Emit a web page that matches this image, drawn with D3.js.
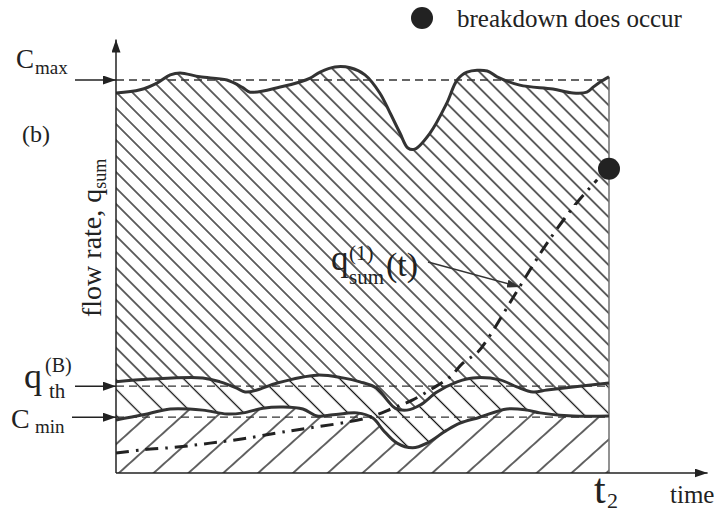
<!DOCTYPE html>
<html><head><meta charset="utf-8">
<script src="https://cdn.jsdelivr.net/npm/d3@7"></script>
<style>body{margin:0;background:#fff}svg{display:block}text{font-family:"Liberation Serif","Times New Roman",serif;fill:#222}</style>
</head><body>
<script>
// ---- data (time 0..100 = t2 ; flow 0..100 = Cmax) ----
const capMaxX = [0,4.9,8.3,11.0,13.0,17.0,22.5,25.8,27.2,33.3,37.3,39.4,41.4,44.4,47.5,50.5,53.5,55.6,57.6,59.2,60.6,63.7,67.1,69.2,71.2,75.3,77.3,81.9,88.6,92.7,95.5,96.8,98.2,100];
const capMaxY = [96.7,97.5,99.2,101.3,101.8,100.8,100,98.0,96.9,98.2,99.5,100.5,102.0,103.3,103.1,101.3,96.7,91.6,86.5,82.7,82.4,86.5,94.1,100,102.0,102.3,100.8,98.7,97.7,96.7,96.9,98.2,99.5,100.8];
const thrX = [0,6.9,17.6,21.1,24.5,26.2,28.6,32.7,40.8,46.0,49.5,52.9,55.0,56.6,59.0,61.7,65.1,69.2,72.4,77.9,81.3,84.6,87.4,92.7,100];
const thrY = [23.2,23.9,24.2,23.2,21.6,20.6,21.1,22.9,24.9,24.2,23.2,21.6,18.6,16.5,16.0,17.3,20.6,23.2,24.2,23.7,21.9,20.6,21.1,21.9,22.9];
const capMinX = [0,5.5,11.0,17.6,22.5,25.8,29.8,33.9,37.9,40.8,44.0,48.9,52.1,54.2,57.0,60.2,63.1,67.1,69.8,73.8,79.3,83.4,86.0,92.7,100];
const capMinY = [13.5,14.8,16.3,16.0,15.0,15.3,16.5,16.8,16.3,14.5,14.8,15.3,14.0,10.9,7.6,6.4,7.6,10.9,12.7,14.2,16.3,16.0,15.3,14.5,14.5];
const demandX = [0,5.5,12.4,19.1,25.8,32.7,37.9,50.9,56.2,60.2,64.3,67.7,70.4,73.4,75.9,79.9,84.0,87.6,93.1,97.6];
const demandY = [5.1,5.9,6.6,7.6,8.7,10.2,11.2,14.0,16.5,18.6,21.6,24.4,28.0,30.8,35.1,43.3,51.7,58.8,68.2,74.6];
const breakdownPoint = [100, 77.4];
const refNames = ["Cmax","qth","Cmin"];
const refValues = [100, 22.1, 14.2];

const W=714,H=512;
const x=d3.scaleLinear().domain([0,100]).range([116,609]);
const y=d3.scaleLinear().domain([0,100]).range([473,80]);
const zip=(a,b)=>a.map((v,i)=>[v,b[i]]);
const capMax=zip(capMaxX,capMaxY), thr=zip(thrX,thrY), capMin=zip(capMinX,capMinY), demand=zip(demandX,demandY);

const svg=d3.select("body").append("svg").attr("width",W).attr("height",H);
const defs=svg.append("defs");
function hatch(id,s,ang){
  const p=defs.append("pattern").attr("id",id).attr("patternUnits","userSpaceOnUse")
    .attr("width",s).attr("height",s).attr("patternTransform",`rotate(${ang})`);
  p.append("line").attr("x1",s/2).attr("x2",s/2).attr("y1",-1).attr("y2",s+1)
    .attr("stroke","#111").attr("stroke-width",1.3);
}
hatch("hUp",11.3,-45); hatch("hBand",18.4,-45); hatch("hLow",23.3,48);
const marker=(id,w,h,col)=>defs.append("marker").attr("id",id).attr("viewBox",`0 0 ${w} ${h}`)
  .attr("refX",w).attr("refY",h/2).attr("markerWidth",w).attr("markerHeight",h).attr("markerUnits","userSpaceOnUse")
  .attr("orient","auto").append("path").attr("d",`M0,0L${w},${h/2}L0,${h}Z`).attr("fill",col);
marker("arr",13,9,"#222"); marker("arrS",13,8,"#333");

const line=d3.line().x(d=>x(d[0])).y(d=>y(d[1])).curve(d3.curveCatmullRom.alpha(0.5));
const closed=(a,b)=>line(a)+"L"+line(b.slice().reverse()).slice(1)+"Z";
svg.append("path").attr("d",closed(capMax,thr)).attr("fill","url(#hUp)");
svg.append("path").attr("d",closed(thr,capMin)).attr("fill","url(#hBand)");
svg.append("path").attr("d",closed(capMin,[[0,0],[100,0]])).attr("fill","url(#hLow)");

// reference dashed lines
svg.selectAll(".ref").data(refValues).join("line").attr("x1",x(0)).attr("x2",x(100))
  .attr("y1",d=>y(d)).attr("y2",d=>y(d)).attr("stroke","#333").attr("stroke-width",1.3).attr("stroke-dasharray","8,5");
// right border
svg.append("line").attr("x1",x(100)).attr("x2",x(100)).attr("y1",y(capMaxY[capMaxY.length-1])).attr("y2",y(0))
  .attr("stroke","#777").attr("stroke-width",1.6);
// curves
[capMax,thr,capMin].forEach(c=>svg.append("path").attr("d",line(c)).attr("fill","none")
  .attr("stroke","#333").attr("stroke-width",3));
svg.append("path").attr("d",line(demand)).attr("fill","none").attr("stroke","#222")
  .attr("stroke-width",3).attr("stroke-dasharray","13,7,2.5,7");
svg.append("circle").attr("cx",x(breakdownPoint[0])).attr("cy",y(breakdownPoint[1])).attr("r",11).attr("fill","#222");

// axes
svg.append("line").attr("x1",x(0)).attr("x2",x(0)).attr("y1",y(0)).attr("y2",y(110.3)).attr("stroke","#222").attr("stroke-width",1.5).attr("marker-end","url(#arr)");
svg.append("line").attr("x1",x(0)).attr("x2",x(120)).attr("y1",y(0)).attr("y2",y(0)).attr("stroke","#222").attr("stroke-width",1.5).attr("marker-end","url(#arr)");
// label arrows
const arrStarts=[75,75,72];
refValues.forEach((v,i)=>svg.append("line").attr("x1",arrStarts[i]).attr("x2",x(0)).attr("y1",y(v)).attr("y2",y(v))
  .attr("stroke","#222").attr("stroke-width",1.5).attr("marker-end","url(#arr)"));

const T=(t,px,py,fs,anchor)=>svg.append("text").attr("x",px).attr("y",py).attr("font-size",fs).attr("text-anchor",anchor||"start").text(t);
// Cmax
T("C",16,68,27); T("max",35,74,19);
// (b)
T("(b)",22,142,24);
// q_th^(B)
T("q",24,388,36); T("th",49,398,21); T("(B)",45,372,20);
// Cmin
T("C",11,428,28); T("min",35,433,19);
// q_sum^(1)(t)
T("q",331,270,35); T("(1)",349,260,21); T("sum",349,284,21); T("(t)",386,276,34);
svg.append("line").attr("x1",428).attr("y1",262).attr("x2",520).attr("y2",287).attr("stroke","#333").attr("stroke-width",1.3).attr("marker-end","url(#arrS)");
// t2 and time
T("t",594,503,42); T("2",607,508,22); T("time",670,503,25);
// legend
svg.append("circle").attr("cx",422).attr("cy",18).attr("r",11).attr("fill","#222");
T("breakdown does occur",457,27,25);
// y label
const yl=svg.append("text").attr("transform","translate(101,317) rotate(-90)").attr("font-size",28);
yl.append("tspan").text("flow rate, q");
yl.append("tspan").attr("dy",5).attr("font-size",18).text("sum");
</script>
</body></html>
